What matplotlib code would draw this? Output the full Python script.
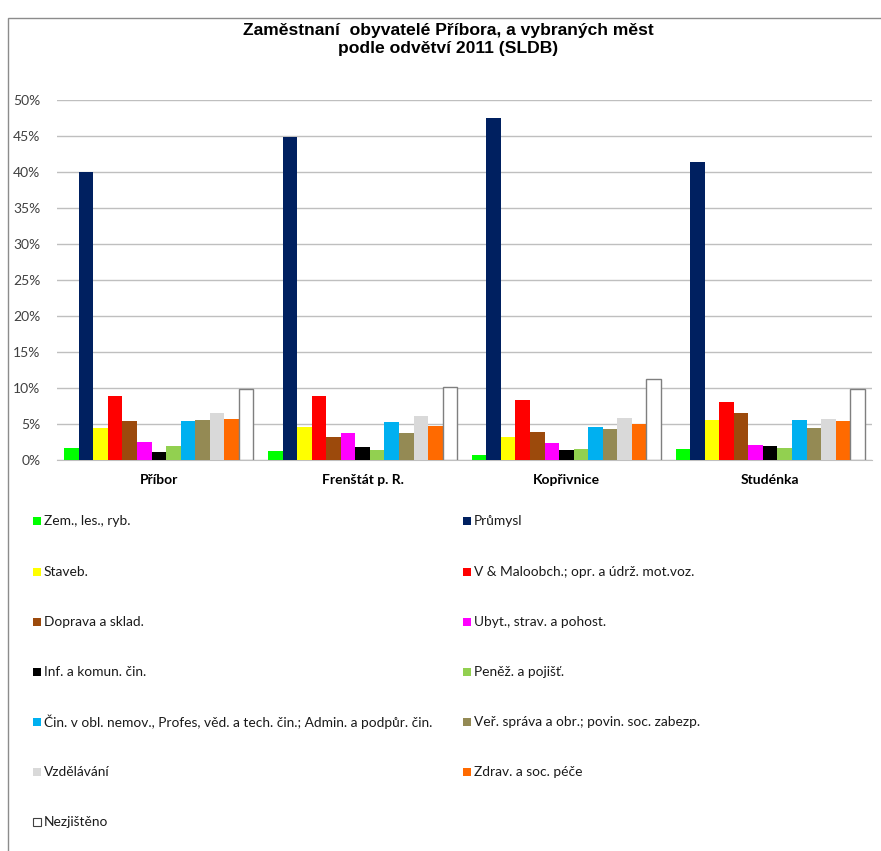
import matplotlib.pyplot as plt
import matplotlib.patches as mpatches
import numpy as np

# Data
mesta = ['Příbor', 'Frenštát p. R.', 'Kopřivnice', 'Studénka']
odvetvi = ['Zem., les., ryb.', 'Průmysl', 'Staveb.',
           'V & Maloobch.; opr. a údrž. mot.voz.', 'Doprava a sklad.',
           'Ubyt., strav. a pohost.', 'Inf. a komun. čin.', 'Peněž. a pojišť.',
           'Čin. v obl. nemov., Profes, věd. a tech. čin.; Admin. a podpůr. čin.',
           'Veř. správa a obr.; povin. soc. zabezp.', 'Vzdělávání',
           'Zdrav. a soc. péče', 'Nezjištěno']
barvy = ['#00FF00', '#002060', '#FFFF00', '#FF0000', '#9C4A0C', '#FF00FF',
         '#000000', '#92D050', '#00B0F0', '#948A54', '#D9D9D9', '#FF6A00',
         '#FFFFFF']

# shares in % (rows = odvetvi, columns = mesta)
podily = [
    [1.6, 1.3, 0.65, 1.5],
    [40.0, 44.8, 47.5, 41.4],
    [4.4, 4.6, 3.2, 5.5],
    [8.9, 8.9, 8.3, 8.0],
    [5.4, 3.2, 3.95, 6.55],
    [2.5, 3.8, 2.4, 2.05],
    [1.15, 1.8, 1.45, 1.9],
    [2.0, 1.45, 1.55, 1.7],
    [5.4, 5.25, 4.65, 5.5],
    [5.6, 3.8, 4.25, 4.4],
    [6.5, 6.1, 5.8, 5.7],
    [5.7, 4.75, 5.0, 5.45],
    [9.9, 10.2, 11.25, 9.8],
]

W, H = 881, 851
fig = plt.figure(figsize=(W / 100, H / 100), dpi=100)

# chart frame
fig.patches.append(mpatches.Rectangle((8 / W, -0.01), 1.0, 1 - 18 / H + 0.01,
                                      transform=fig.transFigure, fill=False,
                                      edgecolor='#8C8C8C', lw=1.0))

ax = fig.add_axes([57 / W, (H - 460) / H, (872 - 57) / W, 360 / H])
n = len(odvetvi)
x = np.arange(len(mesta))
sirka = 1.0 / (n + 1)
for i in range(n):
    pos = x - (n - 1) / 2 * sirka + i * sirka
    ec = '#7F7F7F' if barvy[i] == '#FFFFFF' else 'none'
    ax.bar(pos, np.array(podily[i]) / 100, width=sirka, color=barvy[i],
           edgecolor=ec, linewidth=1.0, zorder=3)

ax.set_xlim(-0.5, len(mesta) - 0.5)
ax.set_ylim(0, 0.5)
ax.set_yticks(np.arange(0, 0.51, 0.05))
ax.set_yticklabels(['{}%'.format(int(round(v * 100))) for v in np.arange(0, 0.51, 0.05)],
                   fontsize=10, family='Lato', color='#404040')
ax.set_xticks(x)
ax.set_xticklabels(mesta, fontsize=10, family='Lato', fontweight='bold')
ax.tick_params(axis='both', length=0)
ax.tick_params(axis='y', pad=12)
ax.tick_params(axis='x', pad=10)
ax.grid(axis='y', color='#BFBFBF', lw=1.0, zorder=0)
for s in ['left', 'right', 'top']:
    ax.spines[s].set_visible(False)
ax.spines['bottom'].set_color('#BFBFBF')

fig.text(448 / W, 1 - 39.5 / H,
         'Zaměstnaní  obyvatelé Příbora, a vybraných měst\npodle odvětví 2011 (SLDB)',
         ha='center', va='center', fontsize=12.6, fontweight='bold',
         family='Liberation Sans', linespacing=1.2)

# legend, two columns, row by row
radky_y = [521, 572, 622, 672, 722, 772, 822]
sloupce_x = [33, 463]
for i in range(n):
    r, c = divmod(i, 2)
    xp = sloupce_x[c]
    yp = radky_y[r]
    fig.patches.append(mpatches.Rectangle((xp / W, 1 - (yp + 4) / H), 8 / W, 8 / H,
                                          transform=fig.transFigure,
                                          facecolor=barvy[i],
                                          edgecolor='#404040' if barvy[i] == '#FFFFFF' else 'none',
                                          lw=0.8))
    fig.text((xp + 11) / W, 1 - yp / H, odvetvi[i], ha='left', va='center',
             fontsize=9.9, family='Lato', color='#1A1A1A')

fig.savefig('out.png', dpi=100)
